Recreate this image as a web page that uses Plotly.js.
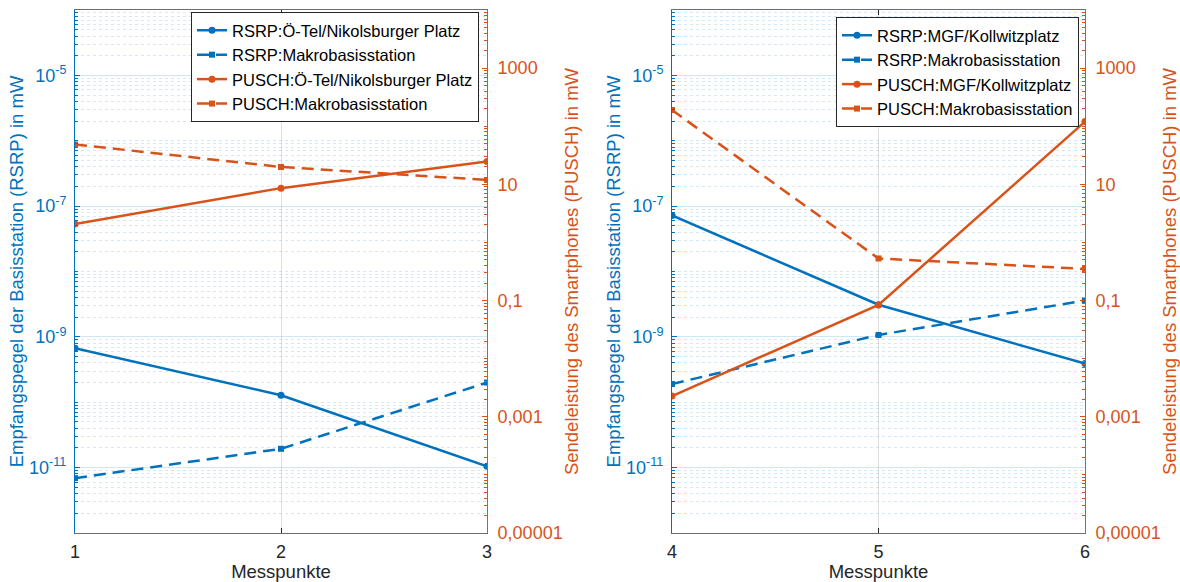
<!DOCTYPE html>
<html><head><meta charset="utf-8">
<script src="https://cdn.plot.ly/plotly-3.0.1.min.js"></script>
<style>html,body{margin:0;padding:0;background:#fff}</style>
</head><body><div id="chart" style="width:1180px;height:582px"></div>
<script>
// ---- data ----
const messpunkteA = [1, 2, 3];
const messpunkteB = [4, 5, 6];
const rsrpOTel    = [6.7e-10, 1.28e-10, 1.05e-11];
const rsrpMakroA  = [6.9e-12, 1.94e-11, 2.0e-10];
const puschOTel   = [2.07, 8.6, 24.8];
const puschMakroA = [48.6, 19.9, 11.9];
const rsrpMGF     = [7.2e-8, 3.1e-9, 3.9e-10];
const rsrpMakroB  = [1.9e-10, 1.07e-9, 3.6e-9];
const puschMGF    = [0.00227, 0.084, 120];
const puschMakroB = [190, 0.53, 0.35];
const namesA = ['RSRP:Ö-Tel/Nikolsburger Platz', 'RSRP:Makrobasisstation', 'PUSCH:Ö-Tel/Nikolsburger Platz', 'PUSCH:Makrobasisstation'];
const namesB = ['RSRP:MGF/Kollwitzplatz', 'RSRP:Makrobasisstation', 'PUSCH:MGF/Kollwitzplatz', 'PUSCH:Makrobasisstation'];
const rsrpTickVals  = [1e-11, 1e-9, 1e-7, 1e-5];
const rsrpTickText  = ['10<sup>-11</sup>', '10<sup>-9</sup>', '10<sup>-7</sup>', '10<sup>-5</sup>'];
const puschTickVals = [1e-5, 1e-3, 0.1, 10, 1000];
const puschTickText = ['0,00001', '0,001', '0,1', '10', '1000'];
const xTitle = 'Messpunkte';
const rsrpTitle = 'Empfangspegel der Basisstation (RSRP) in mW';
const puschTitle = 'Sendeleistung des Smartphones (PUSCH) in mW';

// ---- style ----
const BLUE = '#0072BD', ORANGE = '#D95319';
const FONT = 'Liberation Sans, Arial, Helvetica, sans-serif';
const DASH = '12px,7px';
const TICK_SIZE = 18, TITLE_SIZE = 18.5, LEGEND_SIZE = 16.5;

function minorVals(lo, hi, majors) {
  const out = [];
  const majLog = majors.map(v => Math.round(Math.log10(v)));
  for (let d = lo; d < hi; d++) {
    for (let k = 1; k <= 9; k++) {
      if (k === 1 && majLog.includes(d)) continue;
      out.push(k * Math.pow(10, d));
    }
  }
  return out;
}

function tr(x, y, name, color, dashed, xa, ya, leg) {
  return {
    x: x, y: y, name: name, type: 'scatter', mode: 'lines+markers',
    xaxis: xa, yaxis: ya, legend: leg,
    line: {color: color, width: 2.5, dash: dashed ? DASH : 'solid'},
    marker: {color: color, size: dashed ? 6 : 7, symbol: dashed ? 'square' : 'circle'}
  };
}

const data = [
  tr(messpunkteA, rsrpOTel, namesA[0], BLUE, false, 'x', 'y', 'legend'),
  tr(messpunkteA, rsrpMakroA, namesA[1], BLUE, true, 'x', 'y', 'legend'),
  tr(messpunkteA, puschOTel, namesA[2], ORANGE, false, 'x', 'y2', 'legend'),
  tr(messpunkteA, puschMakroA, namesA[3], ORANGE, true, 'x', 'y2', 'legend'),
  tr(messpunkteB, rsrpMGF, namesB[0], BLUE, false, 'x2', 'y3', 'legend2'),
  tr(messpunkteB, rsrpMakroB, namesB[1], BLUE, true, 'x2', 'y3', 'legend2'),
  tr(messpunkteB, puschMGF, namesB[2], ORANGE, false, 'x2', 'y4', 'legend2'),
  tr(messpunkteB, puschMakroB, namesB[3], ORANGE, true, 'x2', 'y4', 'legend2')
];

const yDom = [49 / 582, 572 / 582];

function xAxis(dom, vals, anchor) {
  return {
    domain: dom, anchor: anchor, range: [vals[0], vals[vals.length - 1]],
    tickmode: 'array', tickvals: vals, ticktext: vals.map(String),
    ticks: 'inside', ticklen: 5, tickcolor: '#262626',
    showline: true, mirror: 'ticks', linecolor: '#6e6e6e', linewidth: 1,
    showgrid: true, gridcolor: 'rgba(38,38,38,0.15)', gridwidth: 1,
    zeroline: false, ticklabelstandoff: 2,
    tickfont: {family: FONT, size: TICK_SIZE, color: '#262626'},
    title: {text: xTitle, font: {family: FONT, size: TITLE_SIZE, color: '#262626'}, standoff: 6}
  };
}

function leftAxis(anchor) {
  return {
    type: 'log', range: [-12, -4], domain: yDom, anchor: anchor, side: 'left',
    tickmode: 'array', tickvals: rsrpTickVals, ticktext: rsrpTickText,
    ticks: 'inside', ticklen: 5, tickcolor: BLUE,
    showline: true, linecolor: BLUE, linewidth: 1, zeroline: false,
    showgrid: true, gridcolor: 'rgba(0,114,189,0.18)', gridwidth: 1,
    minor: {tickmode: 'array', tickvals: minorVals(-12, -4, rsrpTickVals), ticks: 'inside', ticklen: 3,
            tickcolor: BLUE, showgrid: true, gridcolor: 'rgba(0,114,189,0.16)', griddash: 'dot', gridwidth: 1},
    ticklabelstandoff: 4,
    tickfont: {family: FONT, size: TICK_SIZE, color: BLUE},
    title: {text: rsrpTitle, font: {family: FONT, size: TITLE_SIZE, color: BLUE}, standoff: 0}
  };
}

function rightAxis(anchor, over) {
  return {
    type: 'log', range: [-5, 4], domain: yDom, anchor: anchor, overlaying: over, side: 'right',
    tickmode: 'array', tickvals: puschTickVals, ticktext: puschTickText,
    ticks: 'inside', ticklen: 5, tickcolor: ORANGE,
    showline: true, linecolor: ORANGE, linewidth: 1, zeroline: false, showgrid: false,
    minor: {tickmode: 'array', tickvals: minorVals(-5, 4, puschTickVals), ticks: 'inside', ticklen: 3,
            tickcolor: ORANGE, showgrid: false},
    ticklabelstandoff: 6,
    tickfont: {family: FONT, size: TICK_SIZE, color: ORANGE},
    title: {text: puschTitle, font: {family: FONT, size: TITLE_SIZE, color: ORANGE}, standoff: 3}
  };
}

function legendBox(xr, yt) {
  return {
    x: xr, xanchor: 'right', y: yt, yanchor: 'top',
    bgcolor: '#ffffff', bordercolor: '#262626', borderwidth: 1,
    font: {family: FONT, size: LEGEND_SIZE, color: '#000000'},
    itemwidth: 30, tracegroupgap: 0
  };
}

const layout = {
  width: 1180, height: 582,
  margin: {l: 0, r: 0, t: 0, b: 0},
  paper_bgcolor: '#ffffff', plot_bgcolor: '#ffffff',
  showlegend: true,
  xaxis: xAxis([75 / 1180, 487 / 1180], messpunkteA, 'y'),
  xaxis2: xAxis([672 / 1180, 1085 / 1180], messpunkteB, 'y3'),
  yaxis: leftAxis('x'),
  yaxis2: rightAxis('x', 'y'),
  yaxis3: leftAxis('x2'),
  yaxis4: rightAxis('x2', 'y3'),
  legend: legendBox(479 / 1180, 1 - 12 / 582),
  legend2: legendBox(1079 / 1180, 1 - 17 / 582)
};

Plotly.newPlot('chart', data, layout, {displayModeBar: false, staticPlot: true});
</script>
</body></html>
